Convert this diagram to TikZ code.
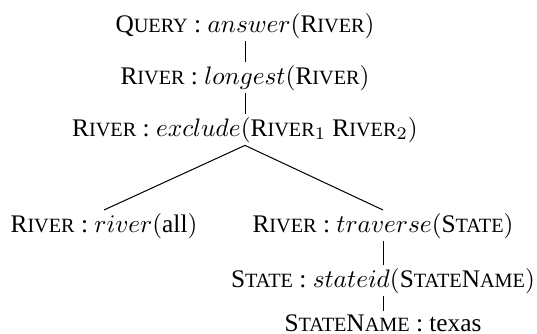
\documentclass[tikz,border=0pt]{standalone}
\usepackage[no-math]{fontspec}
\setmainfont{Liberation Serif}
\usepackage{tikz}
\usetikzlibrary{positioning}

% fake small caps: first letter, then the rest smaller
\newcommand{\smc}[2]{#1{\fontsize{8}{9}\selectfont #2}}

\begin{document}
\begin{tikzpicture}[x=0.395pt, y=-0.395pt]
				\tikzstyle{lbl} = [draw=none, anchor=base, inner sep=1pt, font=\normalsize]
				\tikzstyle{branch} = [draw=black, line width=0.4pt]
				
				\useasboundingbox (0, 0) rectangle (537, 333);
				
				\node[lbl] 	at (245, 32) 	(query) 	{\smc{Q}{UERY} : $answer($\smc{R}{IVER}$)$};
				\node[lbl] 	at (245, 84) 	(longest) 	{\smc{R}{IVER} : $longest($\smc{R}{IVER}$)$};
				\node[lbl] 	at (245, 136) 	(excl) 	{\smc{R}{IVER} : $exclude($\smc{R}{IVER}$_1$ \smc{R}{IVER}$_2)$};
				\node[lbl] 	at (104, 232) 	(rall) 	{\smc{R}{IVER} : $river(\mbox{all})$};
				\node[lbl] 	at (383, 232) 	(trav) 	{\smc{R}{IVER} : $traverse($\smc{S}{TATE}$)$};
				\node[lbl] 	at (383, 287) 	(stid) 	{\smc{S}{TATE} : $stateid($\smc{S}{TATE}\smc{N}{AME}$)$};
				\node[lbl] 	at (383, 331) 	(texas) 	{\smc{S}{TATE}\smc{N}{AME} : texas};
				
				\path[branch]
				(query)	edge	(longest)
				(longest)	edge	(excl)
				(excl.south)	edge	(rall.north)
				(excl.south)	edge	(trav.north)
				(trav)	edge	(stid)
				(stid)	edge	(texas);
\end{tikzpicture}
\end{document}
